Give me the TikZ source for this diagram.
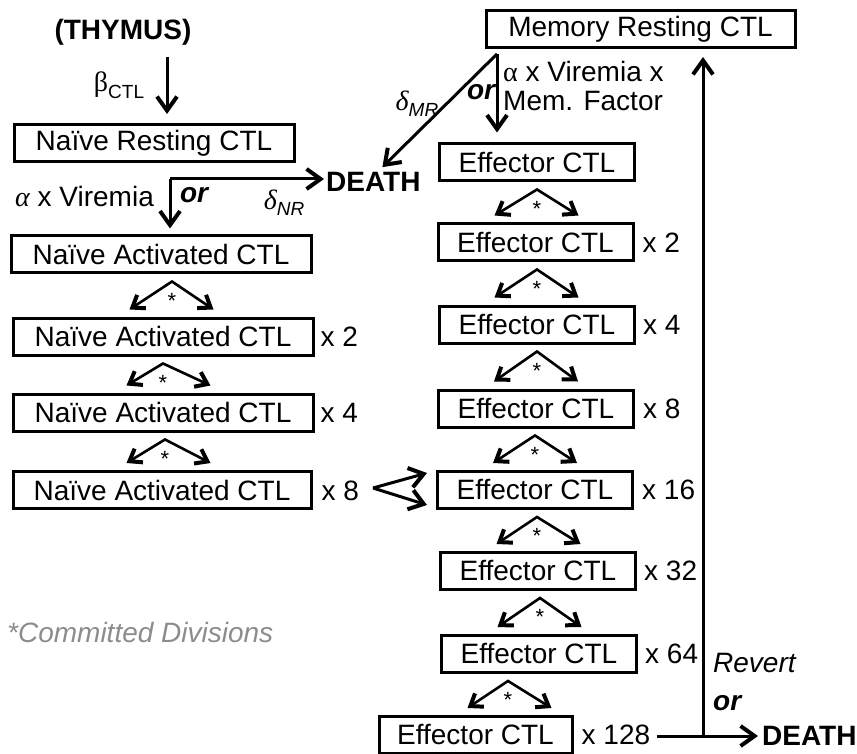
\documentclass[tikz,border=0pt]{standalone}
\usepackage{fontspec}
\setmainfont{Liberation Sans}
\newfontfamily\serifgreek{Liberation Serif}
\usetikzlibrary{arrows.meta,calc}
\definecolor{notegray}{HTML}{8C8C8C}
\newcommand\divpair[4]{%
  \draw[divarr] ($(#2.north)+(#4-42,-7)$) -- ($(#1.south)+(#3,7)$) -- ($(#2.north)+(#4+42,-7)$);
  \node[star] at ($(#1.south)+(#3,26)$) {*};
}
\begin{document}
\begin{tikzpicture}[x=1pt,y=-1pt,
  every node/.style={font=\fontsize{28}{30}\selectfont, inner sep=0pt},
  cell/.style={draw, line width=3pt, minimum height=37pt, inner sep=0pt},
  arr/.style={line width=3pt, -{Straight Barb[length=14pt,width=20pt,line width=4pt]}},
  divarr/.style={line width=2.6pt, line join=miter, {Straight Barb[length=11pt,width=16pt,line width=4pt]}-{Straight Barb[length=11pt,width=16pt,line width=4pt]}},
  lab/.style={anchor=base west},
  star/.style={font=\fontsize{22}{22}\selectfont},
  bolditc/.style={font=\fontsize{28}{30}\selectfont\bfseries\itshape},
]
\useasboundingbox (0,0) rectangle (857,754);

% boxes
\node[cell, minimum width=309pt] (mem) at (640.5,29) {Memory Resting CTL};
\node[cell, minimum width=280pt] (nr) at (154,143) {Naïve Resting CTL};
\node[cell, minimum width=300pt] (na1) at (161,254.5) {Naïve Activated CTL};
\node[cell, minimum width=300pt] (na2) at (163,336.5) {Naïve Activated CTL};
\node[cell, minimum width=300pt] (na3) at (163,412.5) {Naïve Activated CTL};
\node[cell, minimum width=298pt] (na4) at (162,490) {Naïve Activated CTL};
\node[cell, minimum width=195pt] (e1) at (537,162.5) {Effector CTL};
\node[cell, minimum width=195pt] (e2) at (535.5,242.5) {Effector CTL};
\node[cell, minimum width=195pt] (e3) at (537,324.5) {Effector CTL};
\node[cell, minimum width=195pt] (e4) at (536,408.5) {Effector CTL};
\node[cell, minimum width=195pt] (e5) at (535,490) {Effector CTL};
\node[cell, minimum width=195pt] (e6) at (538,571) {Effector CTL};
\node[cell, minimum width=195pt] (e7) at (539,654) {Effector CTL};
\node[cell, minimum width=193pt] (e8) at (475.5,735) {Effector CTL};

% multipliers
\node[lab] (mna2) at ($(na2.base east)+(6,0)$) {x 2};
\node[lab] (mna3) at ($(na3.base east)+(6,0)$) {x 4};
\node[lab] (mna4) at ($(na4.base east)+(9,0)$) {x 8};
\node[lab] (me2) at ($(e2.base east)+(8,0)$) {x 2};
\node[lab] (me3) at ($(e3.base east)+(7,0)$) {x 4};
\node[lab] (me4) at ($(e4.base east)+(8,0)$) {x 8};
\node[lab] (me5) at ($(e5.base east)+(8,0)$) {x 16};
\node[lab] (me6) at ($(e6.base east)+(7,0)$) {x 32};
\node[lab] (me7) at ($(e7.base east)+(7,0)$) {x 64};
\node[lab] (me8) at ($(e8.base east)+(8,0)$) {x 128};

% committed divisions
\divpair{na1}{na2}{11}{8.5}
\divpair{na2}{na3}{0}{5.5}
\divpair{na3}{na4}{2}{6.5}
\divpair{e1}{e2}{0}{1}
\divpair{e2}{e3}{1.5}{-0.5}
\divpair{e3}{e4}{0}{0}
\divpair{e4}{e5}{-1}{0}
\divpair{e5}{e6}{2}{0.5}
\divpair{e6}{e7}{2}{0.5}
\divpair{e7}{e8}{-31}{34}

% thymus
\node[font=\fontsize{28}{30}\selectfont\bfseries] (thy) at (123,32) {(THYMUS)};
\coordinate (t0) at (167,57);
\draw[arr, shorten >=9pt] (t0) -- (t0 |- nr.north);
\node (beta) at (119,85) {{\serifgreek β}\raisebox{-7pt}{\fontsize{19}{19}\selectfont CTL}};

% naive resting split
\node[font=\fontsize{28}{30}\selectfont\bfseries, anchor=west] (death1) at (326,182) {DEATH};
\coordinate (s1) at (170,179);
\draw[arr, shorten >=6pt] (s1) -- (s1 |- na1.north);
\draw[arr, shorten >=2pt] (s1) -- (s1 -| death1.west);
\node[anchor=west] (avir) at (15,197) {{\serifgreek\itshape α} x Viremia};
\node[bolditc] (or1) at (194,195) {or};
\node (dnr) at (284,203) {{\serifgreek\itshape δ}\raisebox{-6pt}{\fontsize{19}{19}\selectfont\itshape NR}};

% memory split
\coordinate (s2) at (497,54);
\draw[arr, shorten >=10pt] (s2) -- (s2 |- e1.north);
\draw[arr] (s2) -- ($(death1.north)+(9,-5)$);
\node (dmr) at (417,104) {{\serifgreek\itshape δ}\raisebox{-6pt}{\fontsize{19}{19}\selectfont\itshape MR}};
\node[bolditc] (or2) at (481,92) {or};
\node[anchor=west, align=left, font=\fontsize{28}{29}\selectfont] (avm) at (503,86) {{\serifgreek α} x Viremia x\\Mem. Factor};

% naive -> effector
\coordinate (fk) at (373,488);
\draw[arr] (fk) -- ($(e5.west)+(-9,-17)$);
\draw[arr] (fk) -- ($(e5.west)+(-9,15)$);

% revert or death
\node[font=\fontsize{28}{30}\selectfont\bfseries, anchor=west] (death2) at (762,736) {DEATH};
\coordinate (rv) at (703,736);
\draw[arr, shorten >=4pt] ($(me8.east |- rv)+(7,0)$) -- (death2.west);
\draw[arr, shorten >=8pt] (rv) -- (rv |- mem.south);
\node[anchor=west, font=\fontsize{28}{30}\selectfont\itshape] (rev) at (713,663) {Revert};
\node[bolditc, anchor=west] (or3) at (713,703) {or};

\node[anchor=west, font=\fontsize{28}{30}\selectfont\itshape, text=notegray] (note) at (7,632) {*Committed Divisions};
\end{tikzpicture}
\end{document}
